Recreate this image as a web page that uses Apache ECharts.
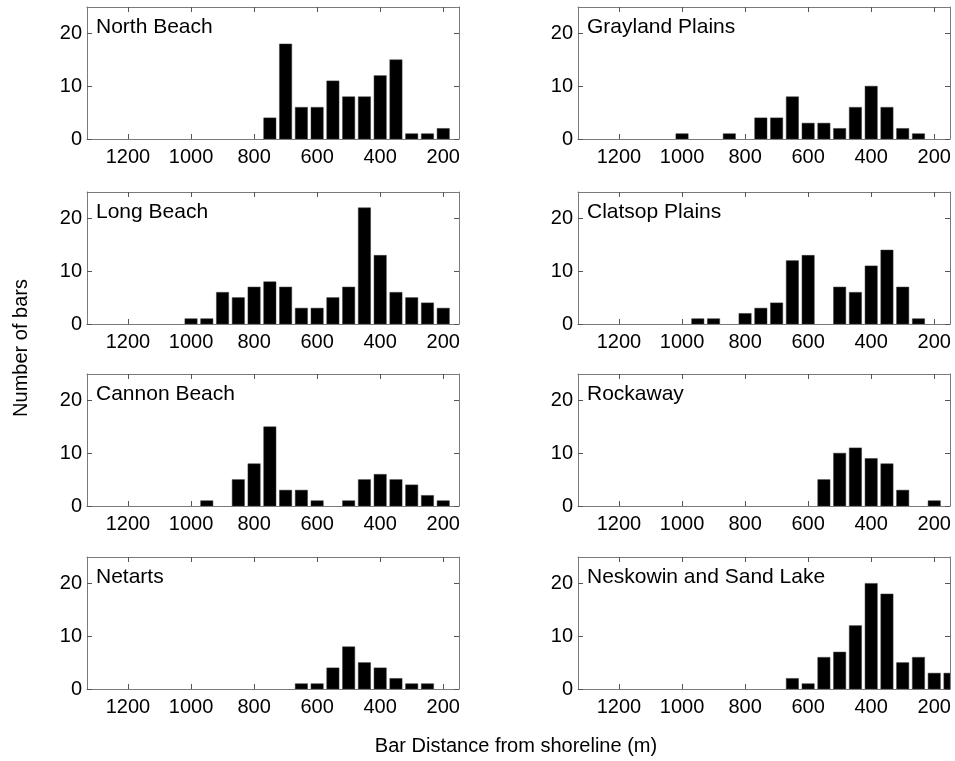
<!DOCTYPE html>
<html>
<head>
<meta charset="utf-8">
<script src="https://cdn.jsdelivr.net/npm/echarts@6/dist/echarts.min.js"></script>
<style>
html,body{margin:0;padding:0;background:#fff;}
#chart{width:955px;height:761px;}
</style>
</head>
<body>
<div id="chart"></div>
<script>
// Site names (panels, row by row: left, right)
const siteNames = ["North Beach", "Grayland Plains", "Long Beach", "Clatsop Plains",
                   "Cannon Beach", "Rockaway", "Netarts", "Neskowin and Sand Lake"];

// Bin centers (m) and counts for each site
const northBeachX  = [750, 700, 650, 600, 550, 500, 450, 400, 350, 300, 250, 200];
const northBeachY  = [4, 18, 6, 6, 11, 8, 8, 12, 15, 1, 1, 2];

const graylandX    = [1000, 850, 750, 700, 650, 600, 550, 500, 450, 400, 350, 300, 250];
const graylandY    = [1, 1, 4, 4, 8, 3, 3, 2, 6, 10, 6, 2, 1];

const longBeachX   = [1000, 950, 900, 850, 800, 750, 700, 650, 600, 550, 500, 450, 400, 350, 300, 250, 200];
const longBeachY   = [1, 1, 6, 5, 7, 8, 7, 3, 3, 5, 7, 22, 13, 6, 5, 4, 3];

const clatsopX     = [950, 900, 800, 750, 700, 650, 600, 500, 450, 400, 350, 300, 250];
const clatsopY     = [1, 1, 2, 3, 4, 12, 13, 7, 6, 11, 14, 7, 1];

const cannonX      = [950, 850, 800, 750, 700, 650, 600, 500, 450, 400, 350, 300, 250, 200];
const cannonY      = [1, 5, 8, 15, 3, 3, 1, 1, 5, 6, 5, 4, 2, 1];

const rockawayX    = [550, 500, 450, 400, 350, 300, 200];
const rockawayY    = [5, 10, 11, 9, 8, 3, 1];

const netartsX     = [650, 600, 550, 500, 450, 400, 350, 300, 250];
const netartsY     = [1, 1, 4, 8, 5, 4, 2, 1, 1];

const neskowinX    = [650, 600, 550, 500, 450, 400, 350, 300, 250, 200, 150];
const neskowinY    = [2, 1, 6, 7, 12, 20, 18, 5, 6, 3, 3];

// Tick labels
const xTicks = [1200, 1000, 800, 600, 400, 200];
const yTicks = [0, 10, 20];
const xMin = 150, xMax = 1330, yMin = 0, yMax = 25;
const binWidth = 50;

const yAxisName = "Number of bars";
const xAxisName = "Bar Distance from shoreline (m)";

const siteX = [northBeachX, graylandX, longBeachX, clatsopX, cannonX, rockawayX, netartsX, neskowinX];
const siteY = [northBeachY, graylandY, longBeachY, clatsopY, cannonY, rockawayY, netartsY, neskowinY];

const FONT = "Liberation Sans, Arial, sans-serif";
const axisColor = "#7a7a7a";
const colLeft = [87, 578];
const rowTop = [7, 192, 374, 557];
const gw = 372, gh = 132;

function renderBar(params, api) {
  const x = api.value(0), y = api.value(1);
  const base = api.coord([x, 0]);
  const top = api.coord([x, y]);
  const w = Math.abs(api.size([binWidth, 0])[0]) * 0.78;
  const cs = params.coordSys;
  const rect = echarts.graphic.clipRectByRect(
    {x: base[0] - w / 2, y: top[1], width: w, height: base[1] - top[1]},
    {x: cs.x, y: cs.y, width: cs.width, height: cs.height}
  );
  if (!rect) return null;
  return {type: 'rect', shape: rect, style: {fill: '#000', stroke: '#3a3a3a', lineWidth: 0.5}};
}

const grids = [], xAxes = [], yAxes = [], series = [], titles = [];
for (let i = 0; i < 8; i++) {
  const r = Math.floor(i / 2), c = i % 2;
  grids.push({left: colLeft[c], top: rowTop[r], width: gw, height: gh, containLabel: false});
  const commonX = {
    type: 'value', gridIndex: i, min: xMin, max: xMax, inverse: true,
    splitLine: {show: false},
    axisLine: {show: true, onZero: false, lineStyle: {color: axisColor, width: 1}},
    axisTick: {show: true, inside: true, length: 5, customValues: xTicks, lineStyle: {color: '#555'}}
  };
  xAxes.push(Object.assign({}, commonX, {
    position: 'bottom',
    axisLabel: {show: true, customValues: xTicks, formatter: v => String(v),
                color: '#000', fontSize: 20, fontFamily: FONT, margin: 8}
  }));
  xAxes.push(Object.assign({}, commonX, {position: 'top', axisLabel: {show: false}}));
  const commonY = {
    type: 'value', gridIndex: i, min: yMin, max: yMax,
    splitLine: {show: false},
    axisLine: {show: true, onZero: false, lineStyle: {color: axisColor, width: 1}},
    axisTick: {show: true, inside: true, length: 5, customValues: yTicks, lineStyle: {color: '#555'}}
  };
  yAxes.push(Object.assign({}, commonY, {
    position: 'left',
    axisLabel: {show: true, customValues: yTicks, formatter: v => String(v),
                color: '#000', fontSize: 20, fontFamily: FONT, margin: 5}
  }));
  yAxes.push(Object.assign({}, commonY, {position: 'right', axisLabel: {show: false}}));
  series.push({
    type: 'custom', xAxisIndex: 2 * i, yAxisIndex: 2 * i,
    data: siteX[i].map((x, k) => [x, siteY[i][k]]),
    renderItem: renderBar,
    encode: {x: 0, y: 1},
    clip: true, silent: true, animation: false
  });
  titles.push({
    text: siteNames[i], left: colLeft[c] + 9, top: rowTop[r] + 10,
    padding: 0,
    textStyle: {fontSize: 21, fontWeight: 'normal', color: '#000', fontFamily: FONT}
  });
}

const chart = echarts.init(document.getElementById('chart'), null, {renderer: 'canvas'});
chart.setOption({
  backgroundColor: '#fff',
  animation: false,
  title: titles,
  grid: grids,
  xAxis: xAxes,
  yAxis: yAxes,
  series: series,
  graphic: [
    {type: 'text', x: 21, y: 348, rotation: Math.PI / 2,
     style: {text: yAxisName, fill: '#000', fontSize: 20, fontFamily: FONT, textAlign: 'center', textVerticalAlign: 'middle'}},
    {type: 'text', x: 516, y: 746,
     style: {text: xAxisName, fill: '#000', fontSize: 20, fontFamily: FONT, textAlign: 'center', textVerticalAlign: 'middle'}}
  ]
});
</script>
</body>
</html>
